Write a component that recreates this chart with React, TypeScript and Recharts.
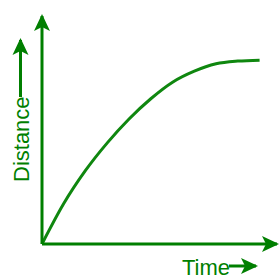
import { Line, LineChart, XAxis, YAxis } from 'recharts'

const times = [0, 1, 2, 3, 4, 5, 6, 7, 8, 9, 10]
const distances = [0, 22, 40, 55, 68, 79, 88, 94, 98, 99.5, 100]

const data = times.map((time, i) => ({ time, distance: distances[i] }))

const GREEN = '#007f00'
const CURVE = '#0f870f'
const FONT = '"Liberation Sans", Arial, Helvetica, sans-serif'

function ArrowDefs() {
  return (
    <svg width={0} height={0} style={{ position: 'absolute' }}>
      <defs>
        <marker
          id="arrow"
          markerUnits="userSpaceOnUse"
          markerWidth={20}
          markerHeight={20}
          viewBox="0 -10 20 20"
          refX={15}
          refY={0}
          orient="auto-start-reverse"
        >
          <path d="M0,-8 L17,0 L0,8 L4,0 Z" fill={GREEN} />
        </marker>
      </defs>
    </svg>
  )
}

function DistanceLabel({ viewBox }: any) {
  if (!viewBox) return null
  const { x, y, width, height } = viewBox
  const bx = x + width - 13.5
  const by = y + height - 62
  return (
    <g>
      <text
        x={bx}
        y={by}
        transform={`rotate(-90 ${bx} ${by})`}
        fontSize={22}
        fontFamily={FONT}
        fill={GREEN}
        textAnchor="start"
      >
        Distance
      </text>
      <line x1={bx - 8} y1={by - 85} x2={bx - 8} y2={y + 24} stroke={GREEN} strokeWidth={3} markerEnd="url(#arrow)" />
    </g>
  )
}

function TimeLabel({ viewBox }: any) {
  if (!viewBox) return null
  const { x, y } = viewBox
  const tx = x + 140
  const ty = y + 31
  return (
    <g>
      <text x={tx} y={ty} fontSize={22} fontFamily={FONT} fill={GREEN} textAnchor="start">
        Time
      </text>
      <line x1={tx + 47} y1={ty - 9} x2={tx + 74} y2={ty - 9} stroke={GREEN} strokeWidth={3} markerEnd="url(#arrow)" />
    </g>
  )
}

export default function App() {
  return (
    <div style={{ position: 'absolute', left: 0, top: 0, width: 280, height: 275, background: '#fff' }}>
      <ArrowDefs />
      <LineChart width={280} height={275} data={data} margin={{ top: 16, right: 3, bottom: 30, left: 41 }}>
        <XAxis
          dataKey="time"
          type="number"
          domain={[0, 10.8]}
          height={1}
          tick={false}
          tickLine={false}
          axisLine={{ stroke: GREEN, strokeWidth: 3, markerEnd: 'url(#arrow)' }}
          label={<TimeLabel />}
        />
        <YAxis
          type="number"
          domain={[0, 124]}
          width={1}
          tick={false}
          tickLine={false}
          axisLine={{ stroke: GREEN, strokeWidth: 3, markerStart: 'url(#arrow)' }}
          label={<DistanceLabel />}
        />
        <Line
          type="monotone"
          dataKey="distance"
          stroke={CURVE}
          strokeWidth={3}
          dot={false}
          activeDot={false}
          isAnimationActive={false}
        />
      </LineChart>
    </div>
  )
}
